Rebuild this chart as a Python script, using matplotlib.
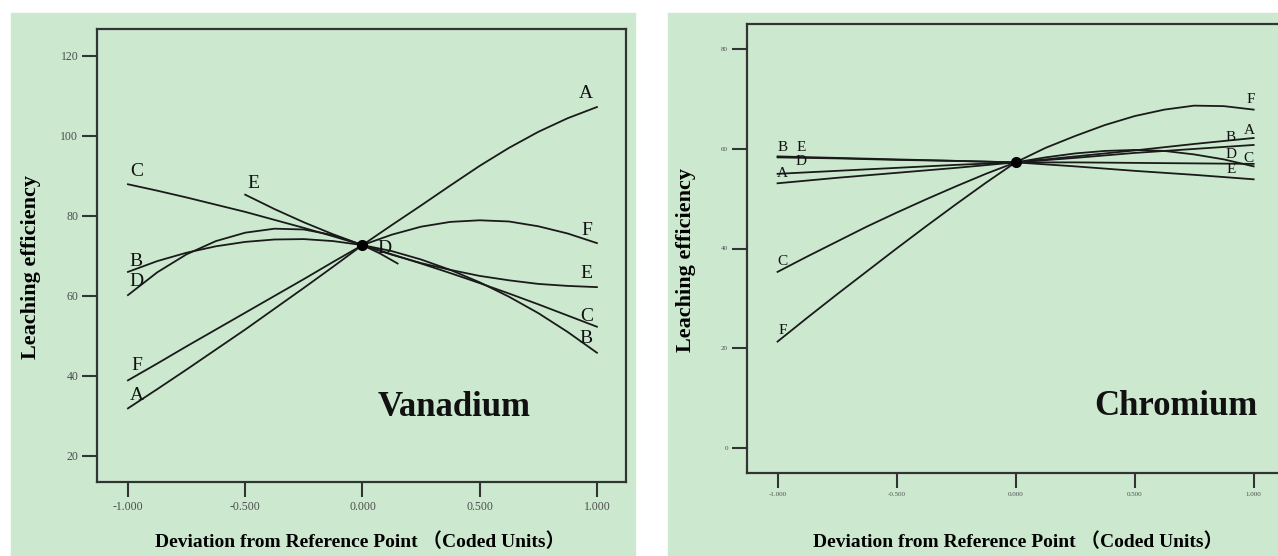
import numpy as np
import matplotlib
matplotlib.use('Agg')
import matplotlib.pyplot as plt
from matplotlib.patches import Rectangle

plt.rcParams['font.family'] = ['Liberation Serif', 'Noto Sans CJK SC']

# ---- data ----
x_grid = [-1.0, -0.75, -0.5, -0.25, 0.0, 0.25, 0.5, 0.75, 1.0]
x_fine = [-1.0, -0.875, -0.75, -0.625, -0.5, -0.375, -0.25, -0.125, 0.0,
          0.125, 0.25, 0.375, 0.5, 0.625, 0.75, 0.875, 1.0]

# Vanadium
v_A = [31.9, 36.7, 41.6, 46.6, 51.6, 56.8, 62.0, 67.3, 72.7,
       77.7, 82.6, 87.6, 92.5, 97.0, 101.0, 104.4, 107.2]
v_B = [66.0, 68.7, 70.8, 72.4, 73.5, 74.1, 74.2, 73.7, 72.7,
       71.2, 69.1, 66.5, 63.4, 59.8, 55.7, 51.0, 45.8]
v_C = [87.9, 86.3, 84.6, 82.8, 81.0, 79.0, 77.0, 74.9, 72.7,
       70.4, 68.1, 65.7, 63.2, 60.6, 57.9, 55.1, 52.3]
v_D_x = [-1.0, -0.875, -0.75, -0.625, -0.5, -0.375, -0.25, -0.125, 0.0, 0.075, 0.15]
v_D = [60.2, 65.9, 70.4, 73.7, 75.8, 76.8, 76.6, 75.2, 72.7, 70.6, 68.1]
v_E_x = [-0.5, -0.375, -0.25, -0.125, 0.0, 0.125, 0.25, 0.375, 0.5,
         0.625, 0.75, 0.875, 1.0]
v_E = [85.3, 81.7, 78.4, 75.4, 72.7, 70.3, 68.2, 66.5, 65.0,
       63.9, 63.0, 62.5, 62.2]
v_F = [38.9, 43.1, 47.4, 51.6, 55.8, 60.0, 64.2, 68.5, 72.7,
       75.3, 77.3, 78.5, 78.9, 78.6, 77.4, 75.6, 73.2]
v_ref = 72.7

# Chromium
c_A = [53.1, 54.2, 55.2, 56.2, 57.3, 58.5, 59.7, 61.0, 62.2]
c_B = [58.3, 58.1, 57.8, 57.6, 57.3, 58.2, 59.2, 60.0, 60.8]
c_C = [35.3, 38.4, 41.4, 44.4, 47.2, 49.9, 52.5, 55.0, 57.3,
       58.3, 59.1, 59.6, 59.8, 59.6, 58.9, 57.9, 56.5]
c_D = [55.0, 55.6, 56.2, 56.8, 57.3, 57.3, 57.2, 57.1, 57.0]
c_E = [58.5, 58.2, 57.9, 57.6, 57.3, 56.5, 55.6, 54.8, 53.9]
c_F = [21.3, 26.1, 30.8, 35.4, 40.0, 44.5, 48.9, 53.2, 57.3,
       60.2, 62.6, 64.8, 66.6, 67.9, 68.7, 68.6, 67.9]
c_ref = 57.3

# curve labels (letter, x, y)
v_labels = [('A', 0.955, 110.6), ('F', 0.955, 76.4), ('E', 0.955, 65.6),
            ('C', 0.955, 54.8), ('B', 0.955, 49.4), ('D', 0.095, 71.9),
            ('C', -0.964, 91.0), ('E', -0.466, 88.1), ('B', -0.964, 68.5),
            ('D', -0.964, 63.5), ('F', -0.964, 42.7), ('A', -0.964, 35.2)]
c_labels = [('F', 0.99, 69.9), ('A', 0.98, 63.8), ('B', 0.905, 62.2),
            ('D', 0.905, 58.8), ('C', 0.98, 58.1), ('E', 0.905, 55.8),
            ('B', -0.98, 60.2), ('E', -0.9, 60.2), ('D', -0.9, 57.5),
            ('A', -0.98, 55.0), ('C', -0.98, 37.4), ('F', -0.98, 23.5)]

xticks = [-1.0, -0.5, 0.0, 0.5, 1.0]

green = '#cce9d0'
dark = '#333333'

fig = plt.figure(figsize=(12.78, 5.56), dpi=100)
W, H = 1278, 556
fig.add_artist(Rectangle((11 / W, 0), (635 - 11) / W, (H - 13) / H,
                         transform=fig.transFigure, color=green, zorder=0))
fig.add_artist(Rectangle((668 / W, 0), (W - 668) / W, (H - 13) / H,
                         transform=fig.transFigure, color=green, zorder=0))

ax1 = fig.add_axes([97 / W, 1 - 482 / H, 529 / W, 453 / H])
ax2 = fig.add_axes([746.6 / W, 1 - 473 / H, 538 / W, 449 / H])


def style(ax, yticks, tick_fs):
    ax.set_facecolor(green)
    for sp in ax.spines.values():
        sp.set_color(dark)
        sp.set_linewidth(1.6)
    ax.set_xticks(xticks)
    ax.set_xticklabels(['%.3f' % t for t in xticks])
    ax.set_yticks(yticks)
    ax.set_yticklabels(['%d' % t for t in yticks])
    ax.tick_params(direction='out', length=10.5, width=1.5, color=dark,
                   labelcolor='#4d4d4d', labelsize=tick_fs, pad=3)


def curves(ax, series, ref, lw=1.3):
    for xs, ys in series:
        ax.plot(xs, ys, color='#1a1a1a', lw=lw, solid_joinstyle='round')
    ax.plot([0], [ref], 'o', color='black', ms=7, zorder=5)


curves(ax1, [(x_fine, v_A), (x_fine, v_B), (x_fine, v_C), (v_D_x, v_D),
             (v_E_x, v_E), (x_fine, v_F)], v_ref)
style(ax1, [20, 40, 60, 80, 100, 120], 8.5)
ax1.set_xlim(-1.132, 1.124)
ax1.set_ylim(13.5, 126.7)
for t, x, y in v_labels:
    ax1.text(x, y, t, ha='center', va='center', fontsize=14, color='#111111')
ax1.text(0.39, 32.2, 'Vanadium', ha='center', va='center', fontsize=25,
         fontweight='bold', color='#111111')

curves(ax2, [(x_grid, c_A), (x_grid, c_B), (x_fine, c_C), (x_grid, c_D),
             (x_grid, c_E), (x_fine, c_F)], c_ref)
style(ax2, [0, 20, 40, 60, 80], 5)
ax2.set_xlim(-1.13, 1.13)
ax2.set_ylim(-5.1, 85.1)
for t, x, y in c_labels:
    ax2.text(x, y, t, ha='center', va='center', fontsize=11, color='#111111')
ax2.text(0.673, 8.2, 'Chromium', ha='center', va='center', fontsize=25,
         fontweight='bold', color='#111111')

ylab = 'Leaching efficiency'
xlab = 'Deviation from Reference Point （Coded Units）'
fig.text(30.6 / W, 1 - 267 / H, ylab, rotation=90, ha='center', va='center',
         fontsize=16, fontweight='bold')
fig.text(686 / W, 1 - 260 / H, ylab, rotation=90, ha='center', va='center',
         fontsize=16, fontweight='bold')
fig.text(360 / W, 1 - 542 / H, xlab, ha='center', va='center',
         fontsize=14, fontweight='bold')
fig.text(1018 / W, 1 - 542 / H, xlab, ha='center', va='center',
         fontsize=14, fontweight='bold')

fig.savefig('out.png', dpi=100, facecolor='white')
